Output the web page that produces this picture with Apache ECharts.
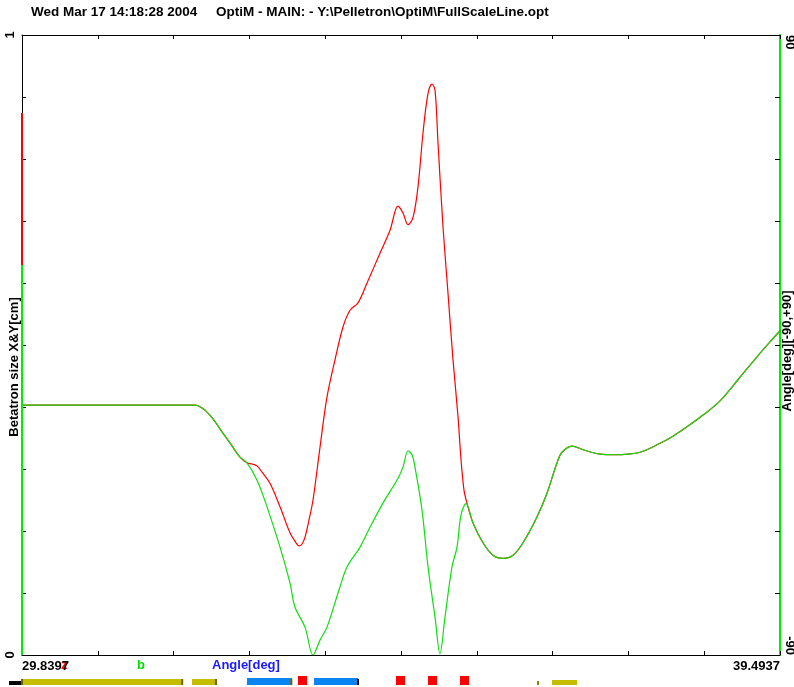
<!DOCTYPE html>
<html><head><meta charset="utf-8">
<script src="https://cdn.jsdelivr.net/npm/echarts@6/dist/echarts.min.js"></script>
<style>html,body{margin:0;padding:0;background:#fff}#c{width:794px;height:687px}</style>
</head><body><div id="c"></div>
<script>
// ---- data ----
const xMin = 29.8397, xMax = 39.4937;
const xTickLabels = ['29.8397', '39.4937'];
const leftTickLabels = ['0', '1'];
const rightTickLabels = ['-90', '90'];
const titleText = 'Wed Mar 17 14:18:28 2004     OptiM - MAIN: - Y:\\Pelletron\\OptiM\\FullScaleLine.opt';
const legendNames = ['z', 'b', 'Angle[deg]'];

// shared start (both curves identical)
const headX = [29.840, 30.833, 32.043, 32.081, 32.170, 32.272, 32.387, 32.489, 32.616, 32.705];
const headY = [0.403, 0.403, 0.403, 0.402, 0.395, 0.381, 0.360, 0.342, 0.319, 0.310];
// green (Y) middle part
const greenX = [32.833, 32.960, 33.126, 33.253, 33.317, 33.444, 33.546, 33.635, 33.724, 33.890, 33.979, 34.145, 34.272, 34.437, 34.629, 34.692, 34.756, 34.807, 34.845, 34.934, 35.011, 35.100, 35.163, 35.227, 35.316, 35.380, 35.431, 35.495];
const greenY = [0.282, 0.239, 0.174, 0.116, 0.077, 0.045, 0.000, 0.024, 0.045, 0.110, 0.142, 0.174, 0.206, 0.245, 0.285, 0.303, 0.329, 0.323, 0.303, 0.234, 0.142, 0.061, 0.002, 0.061, 0.142, 0.174, 0.226, 0.244];
// red (X) middle part
const redX = [32.769, 32.833, 32.896, 32.998, 33.126, 33.253, 33.329, 33.368, 33.406, 33.444, 33.495, 33.546, 33.635, 33.724, 33.826, 33.928, 34.017, 34.119, 34.234, 34.399, 34.527, 34.629, 34.692, 34.756, 34.820, 34.883, 34.947, 35.011, 35.062, 35.100, 35.138, 35.202, 35.265, 35.329, 35.393, 35.431, 35.469, 35.507];
const redY = [0.308, 0.305, 0.295, 0.277, 0.239, 0.197, 0.181, 0.176, 0.179, 0.190, 0.218, 0.250, 0.335, 0.416, 0.476, 0.529, 0.556, 0.568, 0.600, 0.648, 0.685, 0.724, 0.713, 0.694, 0.706, 0.755, 0.842, 0.906, 0.921, 0.911, 0.826, 0.690, 0.584, 0.476, 0.384, 0.315, 0.266, 0.245];
// shared end
const tailX = [35.584, 35.711, 35.838, 35.966, 36.093, 36.221, 36.399, 36.526, 36.654, 36.717, 36.845, 36.985, 37.201, 37.392, 37.558, 37.711, 37.927, 38.131, 38.309, 38.513, 38.730, 38.984, 39.201, 39.366, 39.494];
const tailY = [0.213, 0.181, 0.161, 0.156, 0.161, 0.181, 0.223, 0.261, 0.310, 0.327, 0.337, 0.331, 0.324, 0.323, 0.324, 0.327, 0.339, 0.353, 0.368, 0.387, 0.410, 0.448, 0.481, 0.505, 0.523];

// scale marks on the left axis
const leftGreenSpan = [0, 0.629];
const leftRedSpan = [0.629, 0.874];

// beamline elements
const elemStart = [29.674, 29.840, 32.005, 32.705, 33.355, 33.559, 34.603, 35.011, 35.418, 36.399, 36.590, 29.840, 31.880, 32.310, 33.270, 34.119];
const elemEnd   = [29.840, 31.890, 32.323, 33.278, 33.470, 34.119, 34.718, 35.125, 35.533, 36.424, 36.908, 29.840, 31.880, 32.310, 33.270, 34.119];
const elemKind  = ['edge', 'sol', 'sol', 'bend', 'quad', 'bend', 'quad', 'quad', 'quad', 'mark', 'solThin', 'cap', 'cap', 'cap', 'cap', 'capB'];

// ---- build ----
const zip = (xs, ys) => xs.map((x, i) => [x, ys[i]]);
const greenData = zip(headX.concat(greenX, tailX), headY.concat(greenY, tailY));
const redData = zip(headX.concat(redX, tailX), headY.concat(redY, tailY));
const elemData = elemStart.map((s, i) => [s, elemEnd[i]]);

const elemStyle = {
  edge: {h: 4, color: '#000000'},
  sol: {h: 6, color: '#c4bd00'},
  solThin: {h: 5, color: '#c4bd00'},
  bend: {h: 7, color: '#0a84f0'},
  quad: {h: 9, color: '#ff0000'},
  mark: {h: 4, color: '#8a8400'},
  cap: {h: 6, color: '#6b6600', w: 2},
  capB: {h: 6, color: '#000000', w: 2}
};

const FONT = '"Liberation Sans", Arial, sans-serif';
const lbl = {fontFamily: FONT, fontSize: 13, fontWeight: 'bold', color: '#000'};
const noZero = {onZero: false, lineStyle: {color: '#000', width: 1}};

const chart = echarts.init(document.getElementById('c'), null, {renderer: 'canvas'});
chart.setOption({
  animation: false,
  backgroundColor: '#fff',
  title: {text: titleText, left: 31, top: 5, padding: 0, textStyle: {fontFamily: FONT, fontSize: 13.5, fontWeight: 'bold', color: '#000'}},
  grid: [
    {left: 22, right: 14, top: 35, bottom: 32, containLabel: false, outerBoundsMode: 'none'},
    {left: 22, right: 14, bottom: 1, height: 12, containLabel: false, outerBoundsMode: 'none'}
  ],
  xAxis: [
    {gridIndex: 0, type: 'value', position: 'bottom', min: 0, max: 10, interval: 1,
     axisLine: noZero, axisTick: {inside: true, length: 4, lineStyle: {color: '#000'}},
     splitLine: {show: false},
     axisLabel: Object.assign({margin: 5, alignMinLabel: 'left', alignMaxLabel: 'right',
       formatter: v => v === 0 ? xTickLabels[0] : (v === 10 ? xTickLabels[1] : '')}, lbl)},
    {gridIndex: 0, type: 'value', position: 'top', min: 0, max: 10, interval: 1,
     axisLine: noZero, axisTick: {inside: true, length: 4, lineStyle: {color: '#000'}},
     splitLine: {show: false}, axisLabel: {show: false}},
    {gridIndex: 0, type: 'value', min: xMin, max: xMax, show: false, axisLine: {onZero: false}},
    {gridIndex: 1, type: 'value', min: xMin, max: xMax, show: false, axisLine: {onZero: false}}
  ],
  yAxis: [
    {gridIndex: 0, type: 'value', position: 'left', min: 0, max: 1, interval: 0.1,
     axisLine: {show: true, onZero: false, lineStyle: {color: '#000', width: 1}}, axisTick: {show: true, inside: true, length: 4, lineStyle: {color: '#000'}},
     splitLine: {show: false},
     axisLabel: Object.assign({rotate: 90, margin: 5,
       formatter: v => v === 0 ? leftTickLabels[0] : (Math.abs(v - 1) < 1e-9 ? leftTickLabels[1] : '')}, lbl),
     name: 'Betatron size X&Y[cm]', nameLocation: 'middle', nameGap: 1, nameRotate: 90, nameMoveOverlap: false,
     nameTextStyle: {fontFamily: FONT, fontSize: 13, fontWeight: 'bold', color: '#000', padding: [0, 44, 0, 0]}},
    {gridIndex: 0, type: 'value', position: 'right', min: -90, max: 90, interval: 18,
     axisLine: {show: true, onZero: false, lineStyle: {color: '#00ee00', width: 2}}, axisTick: {show: true, inside: true, length: 5, lineStyle: {color: '#000'}},
     splitLine: {show: false},
     axisLabel: Object.assign({rotate: -90, margin: 3, alignMinLabel: 'right', alignMaxLabel: 'left',
       formatter: v => v === -90 ? rightTickLabels[0] : (v === 90 ? rightTickLabels[1] : '')}, lbl),
     name: 'Angle[deg][-90,+90]', nameLocation: 'middle', nameGap: 1, nameRotate: 90, nameMoveOverlap: false,
     nameTextStyle: {fontFamily: FONT, fontSize: 13, fontWeight: 'bold', color: '#000', padding: [0, 12, 0, 0]}},
    {gridIndex: 1, type: 'value', min: 0, max: 1, show: false}
  ],
  graphic: [
    {type: 'text', left: 61, top: 659, style: {text: legendNames[0], fill: '#ff0000', font: 'bold 13px ' + FONT}},
    {type: 'text', left: 137, top: 659, style: {text: legendNames[1], fill: '#00dd00', font: 'bold 13px ' + FONT}},
    {type: 'text', left: 212, top: 659, style: {text: legendNames[2], fill: '#1a1aff', font: 'bold 13px ' + FONT}}
  ],
  series: [
    {type: 'line', xAxisIndex: 2, yAxisIndex: 0, data: leftGreenSpan.map(v => [xMin, v]), symbol: 'none',
     lineStyle: {color: '#00ee00', width: 2}, z: 5},
    {type: 'line', xAxisIndex: 2, yAxisIndex: 0, data: leftRedSpan.map(v => [xMin, v]), symbol: 'none',
     lineStyle: {color: '#ff0000', width: 2}, z: 5},
    {type: 'line', name: 'X', xAxisIndex: 2, yAxisIndex: 0, data: redData, symbol: 'none', smooth: 0.35,
     lineStyle: {color: '#ff0000', width: 1.2}, z: 3},
    {type: 'line', name: 'Y', xAxisIndex: 2, yAxisIndex: 0, data: greenData, symbol: 'none', smooth: 0.35,
     lineStyle: {color: '#11dd11', width: 1.2}, z: 4},
    {type: 'custom', xAxisIndex: 3, yAxisIndex: 2, data: elemData, clip: false,
     renderItem: function (params, api) {
       const st = elemStyle[elemKind[params.dataIndex]];
       const p0 = api.coord([api.value(0), 0]);
       const p1 = api.coord([api.value(1), 0]);
       const w = st.w ? st.w : Math.max(p1[0] - p0[0], 1);
       const x = st.w ? p0[0] - st.w / 2 : p0[0];
       return {type: 'rect', shape: {x: x, y: p0[1] - 1 - st.h, width: w, height: st.h}, style: {fill: st.color}};
     }}
  ]
});
</script>
</body></html>
